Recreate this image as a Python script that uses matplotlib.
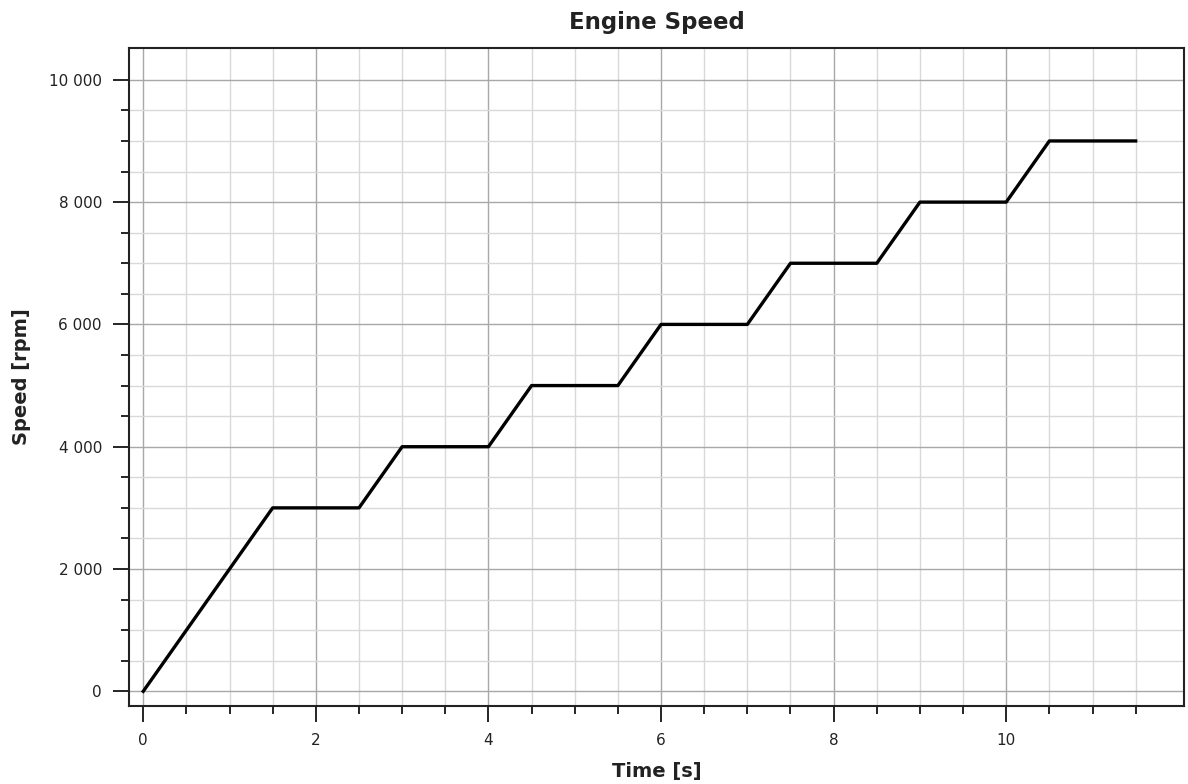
import matplotlib
matplotlib.use("Agg")
import matplotlib.pyplot as plt
import numpy as np
from matplotlib.ticker import FixedLocator, FuncFormatter

time_s = [0, 1.5, 2.5, 3, 4, 4.5, 5.5, 6, 7, 7.5, 8.5, 9, 10, 10.5, 11.5]
speed_rpm = [0, 3000, 3000, 4000, 4000, 5000, 5000, 6000, 6000, 7000, 7000, 8000, 8000, 9000, 9000]
x_major = [0, 2, 4, 6, 8, 10]
y_major = [0, 2000, 4000, 6000, 8000, 10000]

plt.rcParams['font.family'] = ['DejaVu Sans']

fig = plt.figure(figsize=(11.88, 7.84), dpi=100)
ax = fig.add_axes([129/1188, 1 - 706/784, (1184-129)/1188, (706-48)/784])

ax.plot(time_s, speed_rpm, color='black', linewidth=2.4, zorder=3)

ax.set_xlim(-0.165, 12.06)
ax.set_ylim(-240, 10520)

ax.xaxis.set_major_locator(FixedLocator(x_major))
ax.xaxis.set_minor_locator(FixedLocator(np.arange(0, 11.51, 0.5)))
ax.yaxis.set_major_locator(FixedLocator(y_major))
ax.yaxis.set_minor_locator(FixedLocator(np.arange(0, 10001, 500)))

ax.yaxis.set_major_formatter(FuncFormatter(lambda v, p: f"{int(round(v)):,}".replace(",", " ")))
ax.xaxis.set_major_formatter(FuncFormatter(lambda v, p: f"{int(round(v))}"))

ax.grid(which='major', color='#a8a8a8', linewidth=1.0, zorder=0)
ax.grid(which='minor', color='#d9d9d9', linewidth=1.0, zorder=0)
ax.set_axisbelow(True)

ax.tick_params(which='major', direction='out', length=11.5, width=1.2, color='black',
               labelsize=11, pad=8, labelcolor='#222222')
ax.tick_params(which='minor', direction='out', length=6, width=1.2, color='black')

for s in ax.spines.values():
    s.set_linewidth(1.5)
    s.set_color('#222222')

ax.set_title("Engine Speed", fontsize=16.5, fontweight='bold', pad=14, color='#222222')
ax.set_xlabel("Time [s]", fontsize=14, fontweight='bold', labelpad=10, color='#222222')
ax.set_ylabel("Speed [rpm]", fontsize=14, fontweight='bold', labelpad=13, color='#222222')

fig.savefig("out.png", dpi=100)
